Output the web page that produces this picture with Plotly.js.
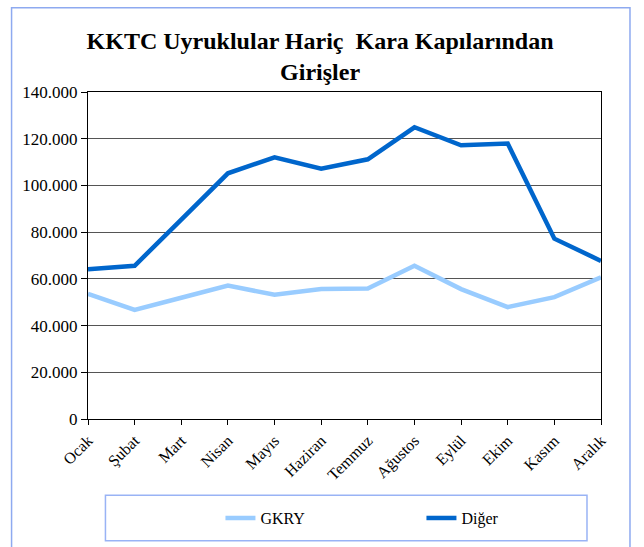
<!DOCTYPE html>
<html>
<head>
<meta charset="utf-8">
<script src="https://cdn.plot.ly/plotly-3.0.1.min.js"></script>
<style>html,body{margin:0;padding:0;background:#fff;}#chart{width:644px;height:547px;}</style>
</head>
<body>
<div id="chart"></div>
<script>
var months = ["Ocak","Şubat","Mart","Nisan","Mayıs","Haziran","Temmuz","Ağustos","Eylül","Ekim","Kasım","Aralık"];
var gkry = [53600, 46700, 51900, 57100, 53200, 55700, 55900, 65600, 55600, 47900, 52200, 60700];
var diger = [64100, 65600, 85400, 105200, 112000, 107200, 111200, 124900, 117200, 117900, 77200, 67700];
var yTicks = [0, 20000, 40000, 60000, 80000, 100000, 120000, 140000];

var serif = "Liberation Serif";
var traces = [
  {x: months, y: gkry, name: "GKRY", type: "scatter", mode: "lines",
   line: {color: "#99ccff", width: 4.5}},
  {x: months, y: diger, name: "Diğer", type: "scatter", mode: "lines",
   line: {color: "#0066cc", width: 4.5}}
];
var layout = {
  width: 644, height: 547,
  margin: {l: 87.5, r: 43, t: 92, b: 125},
  paper_bgcolor: "#fff", plot_bgcolor: "#fff",
  separators: ",.",
  font: {family: serif, size: 16, color: "#000"},
  title: {text: "<b>KKTC Uyruklular Hariç  Kara Kapılarından<br>Girişler</b>",
          font: {family: serif, size: 24, color: "#000"},
          x: 0.497, xanchor: "center", y: 0.91, yanchor: "middle"},
  showlegend: true,
  legend: {orientation: "h", x: 0.65, xanchor: "center", y: -0.303, yanchor: "middle",
           font: {family: serif, size: 16}, entrywidth: 156, bgcolor: "rgba(0,0,0,0)"},
  xaxis: {type: "category", range: [0, 11], showgrid: false, zeroline: false,
          showline: true, linecolor: "#000", linewidth: 1, mirror: true,
          ticks: "outside", ticklen: 5, tickcolor: "#000", tickangle: -45,
          tickfont: {family: serif, size: 16}},
  yaxis: {range: [0, 140000], tickvals: yTicks, tickformat: ",d", ticksuffix: "\u00a0",
          showgrid: true, gridcolor: "#555", gridwidth: 1, zeroline: false,
          showline: true, linecolor: "#000", linewidth: 1, mirror: true,
          ticks: "outside", ticklen: 6, tickcolor: "#000",
          tickfont: {family: serif, size: 17}},
  shapes: [
    {type: "rect", xref: "paper", yref: "paper", x0: 0.034, x1: 0.9727, y0: -0.3727, y1: -0.2333,
     line: {color: "#99b3f5", width: 1.5}, fillcolor: "rgba(0,0,0,0)"},
    {type: "rect", xref: "paper", yref: "paper", x0: -0.149, x1: 1.0565, y0: -0.45, y1: 1.2576,
     line: {color: "#8eaaf0", width: 1.5}, fillcolor: "rgba(0,0,0,0)"}
  ]
};
Plotly.newPlot("chart", traces, layout, {displayModeBar: false, staticPlot: true});
</script>
</body>
</html>
